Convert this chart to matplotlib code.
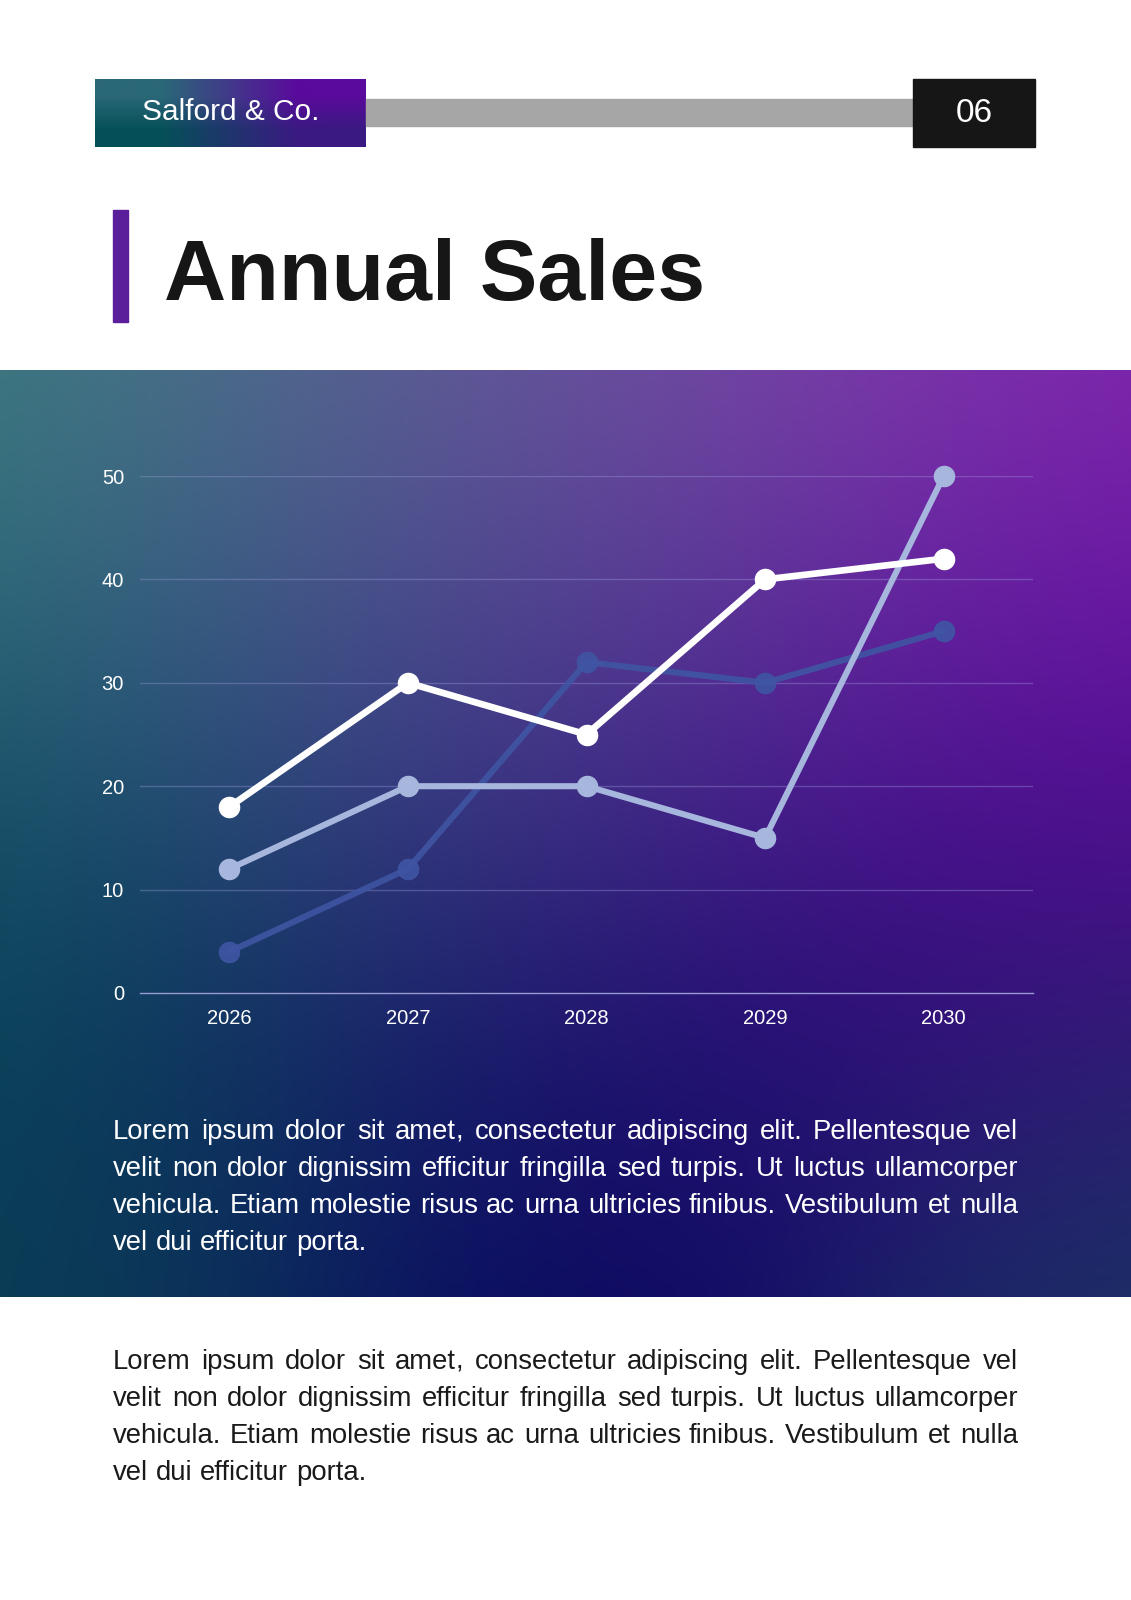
import numpy as np
import matplotlib
matplotlib.use("Agg")
import matplotlib.pyplot as plt
from matplotlib.colors import to_rgb

# ---------------- data ----------------
years = ["2026", "2027", "2028", "2029", "2030"]
series_white = [18, 30, 25, 40, 42]
series_light = [12, 20, 20, 15, 50]
series_dark = [4, 12, 32, 30, 35]
y_ticks = [0, 10, 20, 30, 40, 50]

title = "Annual Sales"
brand = "Salford & Co."
page_no = "06"
para_lines = [
    "Lorem ipsum dolor sit amet, consectetur adipiscing elit. Pellentesque vel",
    "velit non dolor dignissim efficitur fringilla sed turpis. Ut luctus ullamcorper",
    "vehicula. Etiam molestie risus ac urna ultricies finibus. Vestibulum et nulla",
    "vel dui efficitur porta.",
]

W, H = 1131, 1600
FONT = "Liberation Sans"
plt.rcParams['font.family'] = [FONT, 'DejaVu Sans']

fig = plt.figure(figsize=(W / 100, H / 100), dpi=100)
fig.patch.set_facecolor("white")

# background axes in pixel coordinates
bg = fig.add_axes([0, 0, 1, 1])
bg.set_xlim(0, W)
bg.set_ylim(H, 0)
bg.axis("off")

# ---------- gradient band ----------
band_top, band_bot = 370, 1297
ctrl = [
    (0, 370, "#3e8580"), (280, 370, "#56698f"), (560, 370, "#6e5a9f"),
    (850, 370, "#8545ad"), (1131, 370, "#8a2ab2"), (1131, 560, "#7018a8"),
    (1131, 720, "#58069a"), (950, 880, "#46038a"), (1131, 1000, "#3a1478"),
    (1131, 1200, "#1e2e68"), (1131, 1297, "#0f3a5a"), (560, 1240, "#03045a"),
    (800, 1080, "#1a086e"), (0, 600, "#2a6a78"), (0, 850, "#0f5060"),
    (0, 1050, "#054455"), (0, 1297, "#0c3e52"), (250, 1100, "#0d2760"),
    (300, 700, "#3a4a88"), (560, 650, "#4a3e8a"), (800, 650, "#5a2a9a"),
    (560, 950, "#282074"),
]
gx = np.linspace(0, W, 283)
gy = np.linspace(band_top, band_bot, 233)
XX, YY = np.meshgrid(gx, gy)
num = np.zeros(XX.shape + (3,))
den = np.zeros(XX.shape)
sig = 200.0
for cx, cy, col in ctrl:
    w = np.exp(-((XX - cx) ** 2 + (YY - cy) ** 2) / (2 * sig ** 2))
    num += w[..., None] * np.array(to_rgb(col))
    den += w
img = num / den[..., None]
bg.imshow(img, extent=(0, W, band_bot, band_top), aspect="auto",
          interpolation="bicubic", zorder=0)

# ---------- header ----------
hx0, hx1, hy0, hy1 = 95, 366, 79, 147
hg = np.zeros((2, 2, 3))
hg[0, 0] = to_rgb("#2a6878")  # top-left
hg[0, 1] = to_rgb("#5a0a9c")  # top-right
hg[1, 0] = to_rgb("#055058")  # bottom-left
hg[1, 1] = to_rgb("#3a1a82")  # bottom-right
bg.imshow(hg, extent=(hx0, hx1, hy1, hy0), aspect="auto",
          interpolation="bilinear", zorder=1)
bg.add_patch(plt.Rectangle((hx1, 99), 913 - hx1, 27, color="#a6a6a6", zorder=1))
bg.add_patch(plt.Rectangle((913, hy0), 1035 - 913, hy1 - hy0, color="#161616", zorder=1))
bg.text((hx0 + hx1) / 2, 112, brand, color="white", fontsize=21.5,
        ha="center", va="center", zorder=2)
bg.text(974, 113, page_no, color="white", fontsize=24,
        ha="center", va="center", zorder=2)

# title
bg.add_patch(plt.Rectangle((113, 210), 15, 112, color="#5b1f9b", zorder=1))
bg.text(164, 300, title, color="#161616", fontsize=62, fontweight="bold",
        ha="left", va="baseline", zorder=2)

# ---------- chart ----------
ax_l, ax_r, ax_b, ax_t = 140, 1033, 993, 476
ax = fig.add_axes([ax_l / W, 1 - ax_b / H, (ax_r - ax_l) / W, (ax_b - ax_t) / H])
ax.patch.set_alpha(0)
x = np.arange(len(years))
ax.set_xlim(-0.5, len(years) - 0.5)
ax.set_ylim(0, 50)
ax.set_yticks(y_ticks)
ax.set_xticks(x)
ax.set_xticklabels(years)
for s in ["top", "right", "left"]:
    ax.spines[s].set_visible(False)
ax.spines["bottom"].set_color("#9a9ad2")
ax.spines["bottom"].set_linewidth(1)
ax.tick_params(axis="both", length=0, colors="white", labelsize=14.5)
ax.tick_params(axis="y", pad=11.5)
ax.tick_params(axis="x", pad=11.5)
for t in y_ticks[1:]:
    ax.axhline(t, color="#a0a0e0", alpha=0.35, lw=1, zorder=1)

ax.plot(x, series_dark, color="#3f55a3", lw=4.4, marker="o", ms=14.5,
        alpha=0.9, solid_capstyle="round", clip_on=False, zorder=3)
ax.plot(x, series_light, color="#a6b6dc", lw=4.4, marker="o", ms=14.5,
        solid_capstyle="round", clip_on=False, zorder=4)
ax.plot(x, series_white, color="#ffffff", lw=4.8, marker="o", ms=14.5,
        solid_capstyle="round", clip_on=False, zorder=5)

# ---------- justified paragraphs ----------
renderer = fig.canvas.get_renderer()
PFS = 19.8


def word_width(w):
    t = fig.text(0, 0, w, fontsize=PFS)
    bb = t.get_window_extent(renderer)
    t.remove()
    return bb.width


def put_word(xx, yb, w, color):
    # draw a trailing comma separately so every piece shares one baseline
    pieces = [w[:-1], ","] if w.endswith(",") else [w]
    for p in pieces:
        fig.text(round(xx) / W, 1 - yb / H, p, fontsize=PFS, color=color,
                 ha="left", va="baseline")
        xx += word_width(p)


def draw_par(top_baseline, color, left=113, right=1018, spacing=37):
    for i, line in enumerate(para_lines):
        yb = top_baseline + i * spacing
        words = line.split(" ")
        widths = [word_width(w) for w in words]
        last = (i == len(para_lines) - 1)
        if last or len(words) == 1:
            gap = word_width("a a") - word_width("aa")
        else:
            gap = (right - left - sum(widths)) / (len(words) - 1)
        xx = left
        for w, ww in zip(words, widths):
            put_word(xx, yb, w, color)
            xx += ww + gap


draw_par(1139, "white")
draw_par(1369, "#1a1a1a")

fig.savefig("out.png", dpi=100, facecolor="white")
